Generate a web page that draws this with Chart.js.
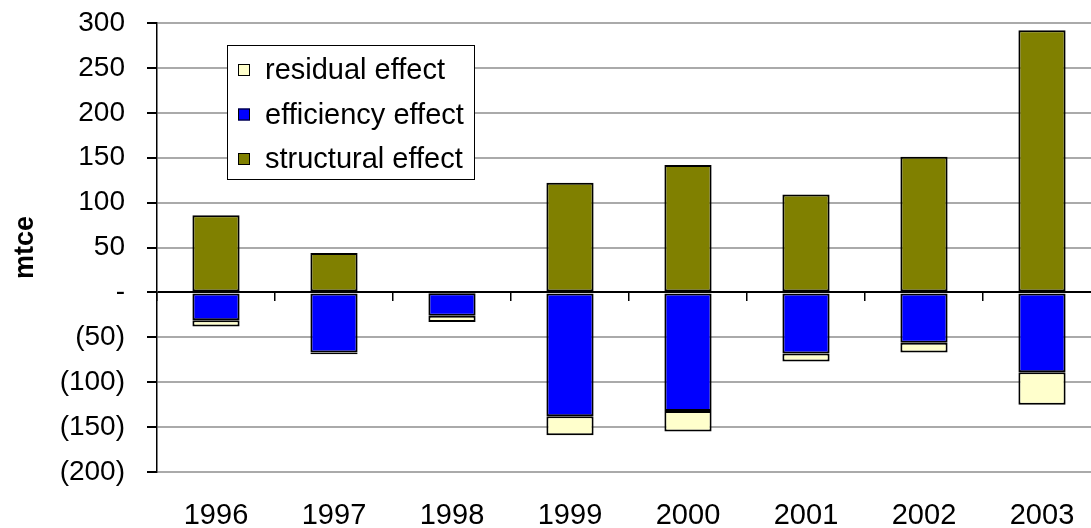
<!DOCTYPE html>
<html>
<head>
<meta charset="utf-8">
<script src="https://cdn.jsdelivr.net/npm/chart.js@4.4.1/dist/chart.umd.min.js"></script>
<style>
  html, body { margin: 0; padding: 0; background: #fff; overflow: hidden; }
  #wrap { width: 1102px; height: 528px; }
</style>
</head>
<body>
<div id="wrap"><canvas id="grafico" width="1102" height="528"></canvas></div>
<script>
// dados (mtce)
const anos = ['1996', '1997', '1998', '1999', '2000', '2001', '2002', '2003'];
const efeitoEstrutural = [86, 44, -1, 122, 142, 109, 151, 292];
const efeitoEficiencia = [-31, -67, -25, -138, -132, -68, -56, -89];
const efeitoResidual = [-7, -2, -7, -21, -23, -9, -11, -36];
const ticksY = [-200, -150, -100, -50, 0, 50, 100, 150, 200, 250, 300];

const fonte = 'Liberation Sans, Arial, sans-serif';

// legenda desenhada dentro da área do gráfico (ordem invertida, como no Excel)
const legendaCaixa = {
    id: 'legendaCaixa',
    afterDraw(chart) {
        const ctx = chart.ctx;
        const area = chart.chartArea;
        const x = area.left + 70, y = area.top + 22;
        const w = 247, h = 134;
        ctx.save();
        ctx.fillStyle = '#fff';
        ctx.fillRect(x, y, w, h);
        ctx.strokeStyle = '#000';
        ctx.lineWidth = 1;
        ctx.strokeRect(x + 0.5, y + 0.5, w, h);
        const itens = chart.data.datasets.slice().reverse();
        ctx.font = '29px ' + fonte;
        ctx.textBaseline = 'middle';
        itens.forEach((ds, i) => {
            const cy = y + 25 + i * 44.5;
            ctx.fillStyle = ds.backgroundColor;
            ctx.fillRect(x + 11, cy - 6, 12, 12);
            ctx.strokeStyle = '#000';
            ctx.strokeRect(x + 11.5, cy - 5.5, 11, 11);
            ctx.fillStyle = '#000';
            ctx.fillText(ds.label, x + 38, cy + 1);
        });
        ctx.restore();
    }
};

new Chart(document.getElementById('grafico'), {
    type: 'bar',
    data: {
        labels: anos,
        datasets: [
            { label: 'structural effect', data: efeitoEstrutural, backgroundColor: '#808000' },
            { label: 'efficiency effect', data: efeitoEficiencia, backgroundColor: '#0000FF' },
            { label: 'residual effect', data: efeitoResidual, backgroundColor: '#FFFFCC' }
        ]
    },
    options: {
        responsive: false,
        animation: false,
        layout: { padding: { top: 23, right: 1, left: 0, bottom: 0 } },
        datasets: {
            bar: {
                borderColor: '#000',
                borderWidth: 2,
                borderSkipped: false,
                barPercentage: 0.4,
                categoryPercentage: 1
            }
        },
        plugins: {
            legend: { display: false },
            tooltip: { enabled: false }
        },
        scales: {
            x: {
                stacked: true,
                grid: { display: false },
                border: { display: false },
                ticks: { color: '#000', font: { family: fonte, size: 29 }, padding: 19 },
                afterFit(scale) { scale.height = 56; }
            },
            x2: {
                type: 'category',
                position: { y: 0 },
                grid: { offset: true, drawOnChartArea: false, tickLength: 9, color: '#000', lineWidth: 1.5 },
                border: { display: false },
                ticks: { display: false }
            },
            y: {
                stacked: true,
                min: -200,
                max: 300,
                afterBuildTicks(scale) { scale.ticks = ticksY.map(v => ({ value: v })); },
                ticks: {
                    color: '#000',
                    padding: 22,
                    font: { family: fonte, size: 28 },
                    callback: v => v === 0 ? '-' : (v < 0 ? '(' + (-v) + ')' : String(v))
                },
                grid: {
                    color: c => c.tick && c.tick.value === 0 ? '#000' : '#aaa',
                    lineWidth: 2,
                    tickColor: '#000',
                    tickLength: 10
                },
                border: { color: '#000', width: 1.5 },
                title: {
                    display: true,
                    text: 'mtce',
                    color: '#000',
                    font: { family: fonte, size: 27, weight: 'bold', lineHeight: 1.6 }
                },
                afterFit(scale) {
                    scale.width = 157;
                    scale.paddingTop = 0;
                    scale.paddingBottom = 0;
                }
            }
        }
    },
    plugins: [legendaCaixa]
});
</script>
</body>
</html>
